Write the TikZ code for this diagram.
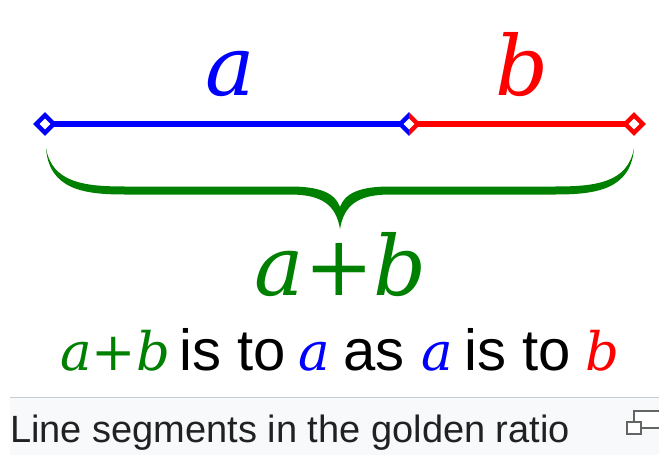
\documentclass[tikz,border=0pt]{standalone}
\usepackage{fontspec}
\setmainfont{Liberation Sans}
\newfontfamily\itserif{DejaVu Serif}
\usetikzlibrary{shapes.geometric}
\definecolor{segblue}{RGB}{0,0,255}
\definecolor{segred}{RGB}{255,0,0}
\definecolor{sumgreen}{RGB}{0,128,0}
\definecolor{capbg}{RGB}{248,249,250}
\definecolor{capline}{RGB}{200,204,209}
\definecolor{captext}{RGB}{32,33,34}
\tikzset{
  endmark/.style={diamond, inner sep=0pt, minimum width=17pt, minimum height=17pt, fill=white},
  seg/.style={line width=5.5pt},
  markline/.style={line width=4.4pt, line join=miter},
  bigit/.style={anchor=base, inner sep=0pt, font=\itserif\itshape\fontsize{83}{83}\selectfont},
  smallit/.style={anchor=base west, inner sep=0pt, font=\itserif\itshape\fontsize{53}{53}\selectfont},
  word/.style={anchor=base west, inner sep=0pt, font=\fontsize{58}{60}\selectfont},
}
\begin{document}
\begin{tikzpicture}[x=1pt,y=-1pt]
\useasboundingbox (0,0) rectangle (659,455);
\fill[white] (0,0) rectangle (659,455);
% caption area
\fill[capbg] (10,397) rectangle (659,455);
\draw[capline, line width=1pt] (10,397) -- (659,397);
\node[anchor=base west, inner sep=0pt, text=captext, font=\fontsize{38}{40}\selectfont] (cap) at (10,442) {Line segments in the golden ratio};
% magnify icon
\draw[captext!70!white, line width=1.6pt, fill=white] (634,411) rectangle (662,428);
\draw[captext!70!white, line width=1.6pt, fill=white] (627,422) rectangle (641,434);
% segments
\coordinate (p0) at (45,124);
\coordinate (p1) at (409,124);
\coordinate (p2) at (634,124);
\node[endmark] (d0) at (p0) {};
\node[endmark] (d1) at (p1) {};
\node[endmark] (d2) at (p2) {};
\draw[seg, segblue] (d0.east) -- (d1.west);
\draw[seg, segred] (d1.east) -- (d2.west);
\draw[segblue, markline] (d0.north) -- (d0.east) -- (d0.south) -- (d0.west) -- cycle;
\draw[segred, markline] (d2.north) -- (d2.east) -- (d2.south) -- (d2.west) -- cycle;
\begin{scope}
\clip (390,105) rectangle (409,143);
\draw[segblue, markline] (d1.north) -- (d1.east) -- (d1.south) -- (d1.west) -- cycle;
\end{scope}
\begin{scope}
\clip (409,105) rectangle (428,143);
\draw[segred, markline] (d1.north) -- (d1.east) -- (d1.south) -- (d1.west) -- cycle;
\end{scope}
% labels
\node[bigit, text=segblue] (la) at (230,95) {a};
\node[bigit, text=segred] (lb) at (522,95) {b};
% brace
\fill[sumgreen] (46,148) .. controls (49,190) and (85,194.5) .. (125,194.5) -- (290,194.5)
  .. controls (322,194.5) and (336,205) .. (340,229)
  .. controls (344,205) and (358,194.5) .. (390,194.5) -- (555,194.5)
  .. controls (595,194.5) and (631,190) .. (634,148)
  .. controls (628,183) and (595,186.5) .. (555,186.5) -- (390,186.5)
  .. controls (360,186.5) and (345,193) .. (340,207)
  .. controls (335,193) and (320,186.5) .. (290,186.5) -- (125,186.5)
  .. controls (85,186.5) and (52,183) .. (46,148) -- cycle;
\node[bigit, text=sumgreen] (lab) at (341,295) {a+b};
% sentence
\node[smallit, text=sumgreen] (s1) at (60,370) {a+b};
\node[word] (s2) at (179,370) {is to};
\node[smallit, text=segblue] (s3) at (298,370) {a};
\node[word] (s4) at (343,370) {as};
\node[smallit, text=segblue] (s5) at (421,370) {a};
\node[word] (s6) at (464,370) {is to};
\node[smallit, text=segred] (s7) at (585,370) {b};
\end{tikzpicture}
\end{document}
